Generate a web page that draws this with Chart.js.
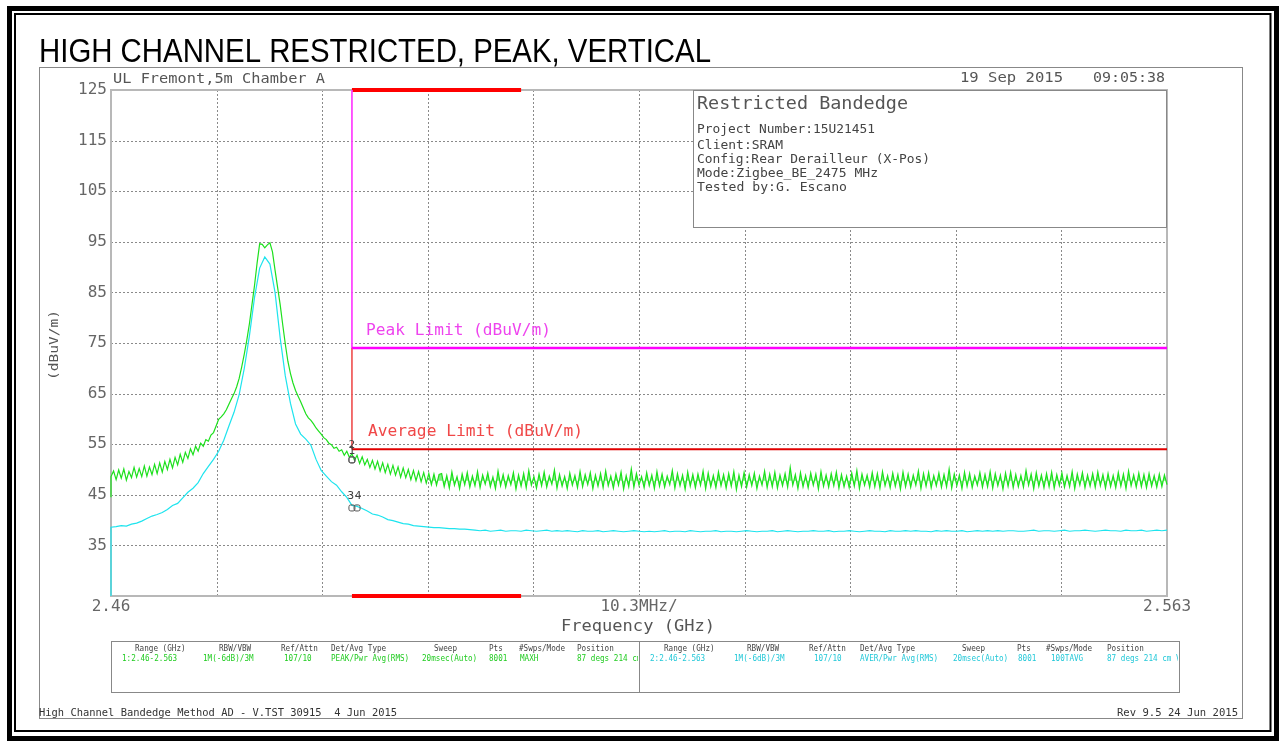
<!DOCTYPE html>
<html>
<head>
<meta charset="utf-8">
<title>High Channel Restricted, Peak, Vertical</title>
<script src="https://cdn.jsdelivr.net/npm/chart.js@4.4.1/dist/chart.umd.min.js"></script>
<style>
  html, body { margin: 0; padding: 0; background: #fff; }
  #plot { display: block; }
</style>
</head>
<body>
<canvas id="plot" width="1279" height="743"></canvas>
<script>
// Sweep settings (MHz)
const sweepStartMHz = 2460;
const sweepStopMHz = 2563;
const peakStepMHz = 0.25;
const avgStepMHz = 0.5;
// level each trace rises from at the start of the sweep (dBuV/m)
const traceStartLevel = [44.5, 25];
// trace 1 settles into a noise floor band from this sample on, centred on this level
const peakFloorStart = 124;
const peakFloorLevel = 47.8;

// Trace 1: PEAK / MAXH (dBuV/m), one value every 0.25 MHz
const peakTrace = [
  48.6, 49.7, 48.0, 49.9, 48.3, 50.1, 47.9, 49.6, 48.4, 50.4,
  48.5, 50.2, 48.6, 50.7, 48.7, 50.5, 49.0, 51.0, 49.2, 51.3,
  49.5, 51.6, 50.0, 52.0, 50.3, 52.4, 50.9, 53.0, 51.4, 53.4,
  52.2, 54.1, 52.9, 54.6, 53.6, 55.2, 54.6, 55.9, 55.6, 56.8,
  57.3, 58.6, 59.9, 60.4, 61.0, 61.8, 62.9, 64.0, 65.0, 66.3,
  68.0, 70.3, 72.8, 75.6, 78.8, 82.6, 86.4, 90.8, 94.6, 94.5,
  93.8, 94.4, 94.8, 93.0, 89.4, 86.0, 82.6, 78.6, 74.8, 71.4,
  69.0, 67.1, 65.6, 64.5, 63.4, 62.2, 61.0, 60.2, 59.7, 59.0,
  58.2, 57.6, 57.0, 56.3, 55.9, 55.2, 54.9, 54.2, 54.4, 53.6,
  53.9, 52.8, 53.6, 52.4, 53.1, 51.8, 52.8, 51.2, 52.5, 50.9,
  52.0, 50.4, 51.8, 50.1, 51.6, 49.7, 51.3, 49.4, 51.0, 49.1,
  50.8, 48.9, 50.5, 48.5, 50.3, 48.4, 50.0, 48.0, 49.8, 47.8,
  49.6, 47.6, 49.4, 47.3, 49.2, 47.0, 49.1, 46.9, 49.0,
  49.2, 46.6, 48.8, 46.3, 49.5, 46.9, 48.6, 46.2, 49.1, 47.0, 49.4, 46.5, 48.7, 46.8, 49.6, 46.4, 48.9, 47.1, 49.3, 46.6,
  48.5, 46.2, 49.7, 46.8, 49.0, 46.5, 48.8, 47.0, 49.4, 46.1, 48.9, 46.7, 49.2, 46.4, 49.8, 46.9, 48.6, 46.3, 49.1, 46.8,
  49.5, 46.5, 48.7, 47.1, 49.9, 46.3, 49.0, 46.7, 48.6, 46.2, 49.3, 46.9, 48.8, 46.4, 49.6, 46.6, 49.0, 47.0, 49.4, 46.2,
  48.9, 46.7, 49.2, 46.4, 49.7, 46.8, 48.7, 46.3, 49.1, 46.9, 49.5, 46.1, 48.8, 46.6, 50.1, 46.5, 49.2, 46.9, 48.6, 46.4,
  49.4, 46.8, 48.9, 46.2, 49.6, 46.7, 49.1, 46.5, 48.7, 47.0, 49.8, 46.3, 49.2, 46.8, 48.9, 46.1, 49.5, 46.7, 49.0, 46.4,
  49.1, 46.9, 49.7, 46.2, 49.3, 46.6, 48.8, 46.4, 49.5, 46.8, 49.0, 46.3, 49.2, 46.7, 49.6, 46.0, 48.9, 46.6, 49.4, 46.5,
  49.0, 46.8, 49.3, 46.2, 48.7, 46.9, 49.7, 46.4, 49.1, 46.6, 49.5, 46.3, 48.9, 46.8, 49.2, 46.5, 50.4, 46.9, 49.0, 46.2,
  49.4, 46.6, 48.8, 46.4, 49.3, 46.9, 49.1, 46.1, 49.6, 46.7, 48.9, 46.5, 49.2, 46.8, 49.5, 46.3, 49.0, 46.6, 48.7, 46.4,
  49.3, 46.7, 49.8, 46.2, 49.1, 46.9, 48.9, 46.5, 49.4, 46.6, 49.2, 46.3, 49.6, 46.8, 48.8, 46.4, 49.3, 46.7, 49.0, 46.1,
  49.5, 46.6, 49.1, 46.5, 48.9, 46.9, 49.7, 46.2, 49.2, 46.7, 49.4, 46.4, 48.8, 46.8, 49.3, 46.5, 49.0, 46.6, 50.1, 46.3,
  49.1, 46.8, 48.9, 46.2, 49.5, 46.7, 49.2, 46.4, 48.7, 46.9, 49.4, 46.5, 49.0, 46.6, 49.6, 46.3, 49.2, 46.8, 48.9, 46.1,
  49.3, 46.7, 49.5, 46.4, 49.0, 46.6, 48.8, 46.5, 49.8, 46.9, 49.1, 46.2, 49.4, 46.7, 48.9, 46.4, 49.2, 46.6, 49.5, 46.3,
  49.0, 46.8, 49.3, 46.5, 48.8, 46.6, 49.6, 46.2, 49.1, 46.9, 49.4, 46.4, 48.9, 46.7, 49.2, 46.5, 49.5, 46.8, 49.0, 46.3,
  49.2, 46.6, 48.8, 46.4, 49.4, 46.7, 49.1, 46.2, 49.7, 46.8, 48.9, 46.5, 49.3, 46.6, 49.0, 46.4, 49.2, 46.7, 48.8, 46.5,
  49.1, 46.6, 48.9, 47.0
];

// Trace 2: AVER / 100TAVG (dBuV/m), one value every 0.5 MHz
const avgTrace = [
  38.6, 38.7, 38.9, 38.8, 39.2, 39.4, 39.8, 40.3, 40.8, 41.1,
  41.5, 42.1, 42.9, 43.3, 44.4, 45.5, 46.3, 47.4, 49.2, 50.6,
  52.0, 53.6, 55.8, 58.6, 61.3, 64.8, 70.0, 76.4, 84.0, 89.8,
  92.0, 90.6, 85.0, 76.0, 68.5, 63.1, 59.0, 57.0, 56.0, 54.8,
  52.0, 49.8, 48.7, 47.6, 46.9, 45.6, 44.5, 42.9, 42.7, 42.3,
  41.8, 41.2, 41.0, 40.6, 40.1, 39.9, 39.6, 39.3, 39.2, 38.9,
  38.8, 38.7, 38.6, 38.5, 38.5, 38.4, 38.3, 38.3, 38.2, 38.2, 38.1,
  38.0, 37.9, 38.0, 37.8, 37.9, 38.0, 37.8, 37.9, 37.9, 37.8, 38.0, 37.9, 37.8, 37.9, 38.0, 37.8, 37.9,
  37.8, 37.9, 37.8, 37.7, 37.9, 37.8, 37.8, 37.9, 37.7, 37.8, 37.9, 37.8, 37.7, 37.8, 37.9, 37.8, 37.7,
  37.8, 37.7, 37.8, 37.9, 37.7, 37.8, 37.8, 37.7, 37.9, 37.8, 37.7, 37.8, 37.8, 37.9, 37.7, 37.8, 37.8,
  37.7, 37.8, 37.9, 37.8, 37.7, 37.8, 37.8, 37.9, 37.7, 37.8, 37.9, 37.8, 37.7, 37.8, 37.8, 37.9, 37.8,
  37.8, 37.9, 37.7, 37.8, 37.8, 37.9, 37.8, 37.7, 37.8, 37.9, 37.8, 37.8, 37.7, 37.9, 37.8, 37.8, 37.9,
  37.8, 37.9, 37.8, 37.8, 37.7, 37.9, 37.8, 37.9, 37.8, 37.8, 37.9, 37.7, 37.8, 37.9, 37.8, 37.9, 37.8,
  37.9, 37.8, 37.9, 37.9, 37.8, 37.8, 37.9, 38.0, 37.8, 37.9, 37.9, 37.8, 37.9, 38.0, 37.8, 37.9, 37.9,
  38.0, 37.9, 37.8, 37.9, 38.0, 37.9, 37.9, 37.8, 38.0, 37.9, 37.9, 38.0, 37.8, 37.9, 38.0, 37.9, 38.0
];

// Limits and restricted band
const bandEdgeMHz = 2483.5;
const restrictedBandMHz = [2483.5, 2500];
const peakLimit = 74;
const averageLimit = 54;

// Markers
const markerFreq = [2483.5, 2483.5, 2483.5, 2484.0];
const markerLevel = [51.9, 51.9, 42.4, 42.4];
const markerName = ['1', '2', '3', '4'];

// Axes
const xTickMHz = [2460, 2470.3, 2480.6, 2490.9, 2501.2, 2511.5, 2521.8, 2532.1, 2542.4, 2552.7, 2563];
const xTickLabels = ['2.46', '', '', '', '', '10.3MHz/', '', '', '', '', '2.563'];
const yTickValues = [25, 35, 45, 55, 65, 75, 85, 95, 105, 115, 125];
const yTickLabels = ['', '35', '45', '55', '65', '75', '85', '95', '105', '115', '125'];

// Info box and setup table
const infoTitle = 'Restricted Bandedge';
const infoLines = ['Project Number:15U21451', 'Client:SRAM', 'Config:Rear Derailleur (X-Pos)', 'Mode:Zigbee_BE_2475 MHz', 'Tested by:G. Escano'];
const tableHeaders = ['Range (GHz)', 'RBW/VBW', 'Ref/Attn', 'Det/Avg Type', 'Sweep', 'Pts', '#Swps/Mode', 'Position'];
const trace1Row = ['1:2.46-2.563', '1M(-6dB)/3M', '107/10', 'PEAK/Pwr Avg(RMS)', '20msec(Auto)', '8001', 'MAXH', '87 degs 214 cm'];
const trace2Row = ['2:2.46-2.563', '1M(-6dB)/3M', '107/10', 'AVER/Pwr Avg(RMS)', '20msec(Auto)', '8001', '100TAVG', '87 degs 214 cm V'];

const MONO = "'DejaVu Sans Mono', 'Liberation Mono', monospace";
const TEXT_GRAY = '#555';
const GREEN = '#1de01d';
const CYAN = '#1ee4ee';

function toPoints(values, start, step, startLevel) {
  const pts = startLevel === undefined ? [] : [{ x: start, y: startLevel }];
  values.forEach((v, i) => pts.push({ x: start + i * step, y: v }));
  return pts;
}

// draw text squeezed/stretched to a given width, vertically centred on y
function fitText(ctx, text, x, y, width, size, color, family) {
  ctx.save();
  ctx.font = size + 'px ' + (family || MONO);
  const w = ctx.measureText(text).width;
  ctx.translate(x, y);
  ctx.scale(width / w, 1);
  ctx.fillStyle = color;
  ctx.textBaseline = 'middle';
  ctx.textAlign = 'left';
  ctx.fillText(text, 0, 0);
  ctx.restore();
}

const pagePlugin = {
  id: 'page',
  beforeDraw(chart) {
    const ctx = chart.ctx;
    ctx.save();
    ctx.fillStyle = '#fff';
    ctx.fillRect(0, 0, chart.width, chart.height);

    // outer frames
    ctx.strokeStyle = '#000';
    ctx.lineWidth = 5;
    ctx.strokeRect(9.5, 8.5, 1267, 730);
    ctx.lineWidth = 2;
    ctx.strokeRect(15, 14, 1255.5, 717);
    ctx.strokeStyle = '#888';
    ctx.lineWidth = 1;
    ctx.strokeRect(39.5, 67.5, 1203, 651);

    // title
    ctx.font = "34px 'Liberation Sans', Arial, sans-serif";
    const tw = ctx.measureText('HIGH CHANNEL RESTRICTED, PEAK, VERTICAL').width;
    ctx.translate(39, 62);
    ctx.scale(672 / tw, 1);
    ctx.fillStyle = '#000';
    ctx.textBaseline = 'alphabetic';
    ctx.fillText('HIGH CHANNEL RESTRICTED, PEAK, VERTICAL', 0, 0);
    ctx.restore();

    fitText(ctx, 'UL Fremont,5m Chamber A', 113, 79, 212, 14, TEXT_GRAY);
    fitText(ctx, '19 Sep 2015', 960, 78, 103, 14, TEXT_GRAY);
    fitText(ctx, '09:05:38', 1093, 78, 72, 14, TEXT_GRAY);
    fitText(ctx, 'Frequency (GHz)', 561, 627, 154, 16, TEXT_GRAY);

    // y axis title
    ctx.save();
    ctx.translate(55, 345);
    ctx.rotate(-Math.PI / 2);
    fitText(ctx, '(dBuV/m)', -35, 0, 70, 13, TEXT_GRAY);
    ctx.restore();

    // setup table
    ctx.save();
    ctx.strokeStyle = '#888';
    ctx.lineWidth = 1;
    ctx.strokeRect(111.5, 641.5, 1068, 51);
    ctx.beginPath();
    ctx.moveTo(639.5, 641);
    ctx.lineTo(639.5, 692);
    ctx.stroke();
    const hdrL = [135, 219, 281, 331, 434, 489, 519, 577];
    const hdrR = [664, 747, 809, 860, 962, 1017, 1046, 1107];
    const valL = [122, 203, 284, 331, 422, 489, 520, 577];
    const valR = [650, 734, 814, 860, 953, 1018, 1051, 1107];
    const cw = 4.6;
    tableHeaders.forEach((h, i) => {
      fitText(ctx, h, hdrL[i], 649, h.length * cw, 9, '#444');
      fitText(ctx, h, hdrR[i], 649, h.length * cw, 9, '#444');
    });
    ctx.save();
    ctx.beginPath();
    ctx.rect(112, 642, 526, 50);
    ctx.clip();
    trace1Row.forEach((t, i) => fitText(ctx, t, valL[i], 659, t.length * cw, 9, '#22cc22'));
    ctx.restore();
    ctx.save();
    ctx.beginPath();
    ctx.rect(641, 642, 537, 50);
    ctx.clip();
    trace2Row.forEach((t, i) => fitText(ctx, t, valR[i], 659, t.length * cw, 9, '#22c8d8'));
    ctx.restore();
    ctx.restore();

    // footer
    fitText(ctx, 'High Channel Bandedge Method AD - V.TST 30915  4 Jun 2015', 39, 713, 358, 10, '#333');
    fitText(ctx, 'Rev 9.5 24 Jun 2015', 1117, 713, 121, 10, '#333');
  },
  beforeDatasetsDraw(chart) {
    const ctx = chart.ctx;
    const area = chart.chartArea;
    const xs = chart.scales.x;
    const ys = chart.scales.y;
    ctx.save();
    // dotted grid
    ctx.strokeStyle = '#8a8a8a';
    ctx.lineWidth = 1;
    ctx.setLineDash([2, 2]);
    xTickMHz.slice(1, -1).forEach(v => {
      const px = Math.round(xs.getPixelForValue(v)) + 0.5;
      ctx.beginPath();
      ctx.moveTo(px, area.top);
      ctx.lineTo(px, area.bottom);
      ctx.stroke();
    });
    yTickValues.slice(1, -1).forEach(v => {
      const py = Math.round(ys.getPixelForValue(v)) + 0.5;
      ctx.beginPath();
      ctx.moveTo(area.left, py);
      ctx.lineTo(area.right, py);
      ctx.stroke();
    });
    ctx.setLineDash([]);
    // plot border
    ctx.strokeStyle = '#b8b8b8';
    ctx.lineWidth = 2;
    ctx.strokeRect(area.left, area.top, area.right - area.left, area.bottom - area.top);

    // info box
    ctx.fillStyle = '#fff';
    ctx.fillRect(693, 90, 474, 138);
    ctx.strokeStyle = '#888';
    ctx.lineWidth = 1;
    ctx.strokeRect(693.5, 90.5, 473, 137);
    ctx.restore();
    fitText(ctx, infoTitle, 697, 105, 211, 17, TEXT_GRAY);
    const lineY = [130, 145.5, 160, 174, 188];
    const lineW = [178, 86, 233, 181, 150];
    infoLines.forEach((t, i) => fitText(ctx, t, 697, lineY[i], lineW[i], 12, '#444'));
  },
  afterDatasetsDraw(chart) {
    const ctx = chart.ctx;
    const xs = chart.scales.x;
    const ys = chart.scales.y;
    fitText(ctx, 'Peak Limit (dBuV/m)', 366, 331, 185, 15, '#ee44ee');
    fitText(ctx, 'Average Limit (dBuV/m)', 368, 432, 215, 15, '#f04848');

    // marker numbers
    const offs = [[0, -9], [0, -15], [-1, -12], [1, -12]];
    ctx.save();
    ctx.font = '11px ' + MONO;
    ctx.fillStyle = '#444';
    ctx.textAlign = 'center';
    ctx.textBaseline = 'middle';
    markerName.forEach((n, i) => {
      const px = xs.getPixelForValue(markerFreq[i]);
      const py = ys.getPixelForValue(markerLevel[i]);
      ctx.fillText(n, px + offs[i][0], py + offs[i][1]);
    });
    ctx.restore();
  }
};

function lineSet(points, color, width, order) {
  return {
    data: points,
    borderColor: color,
    borderWidth: width,
    pointRadius: 0,
    tension: 0,
    clip: false,
    order: order
  };
}

// dense noise floor of trace 1, shaded between the samples and the floor centre
const floorBand = lineSet(
  toPoints(peakTrace.slice(peakFloorStart), sweepStartMHz + peakFloorStart * peakStepMHz, peakStepMHz),
  'rgba(0,0,0,0)', 0, 1);
floorBand.fill = { value: peakFloorLevel };
floorBand.backgroundColor = 'rgba(29,224,29,0.55)';

const datasets = [
  {
    data: markerFreq.map((f, i) => ({ x: f, y: markerLevel[i] })),
    showLine: false,
    pointStyle: 'rectRounded',
    pointRadius: 3.5,
    borderColor: '#555',
    backgroundColor: 'rgba(0,0,0,0)',
    borderWidth: 1,
    order: 0
  },
  lineSet(toPoints(peakTrace, sweepStartMHz, peakStepMHz, traceStartLevel[0]), GREEN, 1.2, 1),
  floorBand,
  lineSet(toPoints(avgTrace, sweepStartMHz, avgStepMHz, traceStartLevel[1]), CYAN, 1.2, 2),
  lineSet([{ x: bandEdgeMHz, y: peakLimit }, { x: sweepStopMHz, y: peakLimit }], '#ff00ff', 2.5, 3),
  lineSet([{ x: bandEdgeMHz, y: averageLimit }, { x: sweepStopMHz, y: averageLimit }], '#e00000', 2, 3),
  lineSet([{ x: bandEdgeMHz, y: 125 }, { x: bandEdgeMHz, y: peakLimit }], '#ff40ff', 1, 4),
  lineSet([{ x: bandEdgeMHz, y: peakLimit }, { x: bandEdgeMHz, y: averageLimit }], '#f05a5a', 1, 4),
  lineSet([{ x: restrictedBandMHz[0], y: 125 }, { x: restrictedBandMHz[1], y: 125 }], '#ff0000', 4, 4),
  lineSet([{ x: restrictedBandMHz[0], y: 25 }, { x: restrictedBandMHz[1], y: 25 }], '#ff0000', 4, 4)
];

const chart = new Chart(document.getElementById('plot').getContext('2d'), {
  type: 'line',
  data: { datasets: datasets },
  options: {
    responsive: false,
    animation: false,
    devicePixelRatio: 1,
    parsing: false,
    normalized: true,
    layout: { padding: { left: 41, top: 90, right: 112, bottom: 107 } },
    plugins: {
      legend: { display: false },
      tooltip: { enabled: false },
      filler: { propagate: false }
    },
    scales: {
      x: {
        type: 'linear',
        min: sweepStartMHz,
        max: sweepStopMHz,
        grid: { display: false, drawTicks: false },
        border: { display: false },
        afterBuildTicks: scale => { scale.ticks = xTickMHz.map(v => ({ value: v })); },
        afterFit: scale => { scale.height = 40; },
        ticks: {
          autoSkip: false,
          maxRotation: 0,
          padding: 1,
          color: '#666',
          font: { family: MONO, size: 16 },
          callback: (v, i) => xTickLabels[i]
        }
      },
      y: {
        type: 'linear',
        min: 25,
        max: 125,
        grid: { display: false, drawTicks: false },
        border: { display: false },
        afterBuildTicks: scale => { scale.ticks = yTickValues.map(v => ({ value: v })); },
        afterFit: scale => { scale.width = 70; },
        ticks: {
          padding: 4,
          color: '#666',
          font: { family: MONO, size: 16 },
          callback: (v, i) => yTickLabels[i]
        }
      }
    }
  },
  plugins: [pagePlugin]
});
</script>
</body>
</html>
